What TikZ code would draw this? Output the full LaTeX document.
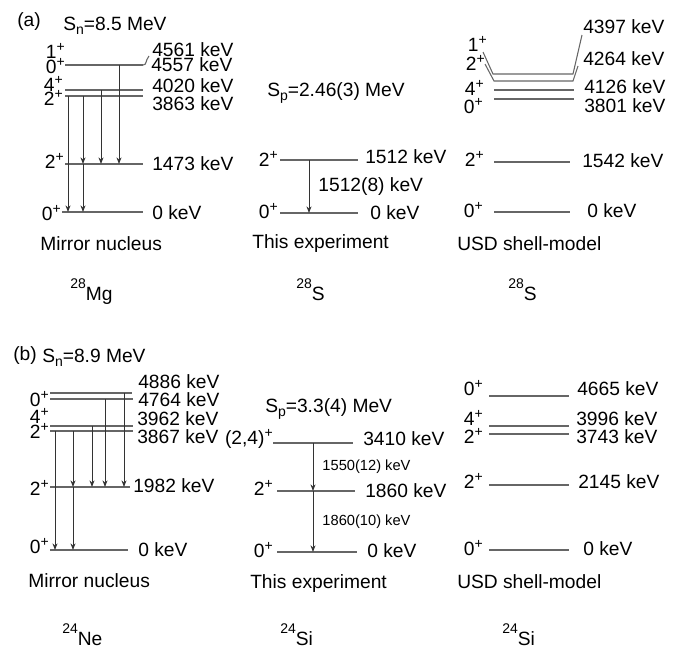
\documentclass[tikz,border=0pt]{standalone}
\usepackage{fontspec}
\setmainfont{Liberation Sans}
\usetikzlibrary{arrows.meta}
\colorlet{lvlcol}{black!60}
\colorlet{gamcol}{black!80}
\tikzstyle{lvl}=[lvlcol,line width=0.8pt]
\tikzstyle{gam}=[-{Stealth[length=5pt,width=3.8pt]},gamcol,line width=0.7pt]
\tikzstyle{jlab}=[anchor=base east]
\tikzstyle{elab}=[anchor=base west]
\tikzstyle{txt}=[anchor=base west]
\tikzstyle{glab}=[right=6.75pt,text=black,font=\fontsize{11}{13}\selectfont]
\newcommand{\jpi}[1]{#1\raisebox{4.8pt}{\fontsize{10.5}{12}\selectfont +}}
\newcommand{\nuc}[2]{\raisebox{9pt}{\fontsize{10.5}{12}\selectfont #1}#2}
\newcommand{\sepen}[2]{S\raisebox{-3pt}{\fontsize{10.5}{12}\selectfont #1}=#2}

\begin{document}
\begin{tikzpicture}[x=0.75pt,y=-0.75pt,
  every node/.style={inner sep=0pt,font=\fontsize{14.4}{17}\selectfont}]
  \useasboundingbox (0,0) rectangle (679,650);
  % (a) mirror nucleus 28Mg
  \node (labA) at (29,22) {(a)};
  \node[txt] (snA) at (63,30) {\sepen{n}{8.5 MeV}};
  \draw[lvl] (65,65) -- (143,65);
  \draw[lvl] (65,90) -- (143,90);
  \draw[lvl] (65,96) -- (143,96);
  \draw[lvl] (65,164) -- (143,164);
  \draw[lvl] (62,212) -- (143,212);
  \draw[lvl] (143,65) .. controls (147,65) and (145,61) .. (149,56);
  \node[jlab] (mgJ1) at (65,58) {\jpi{1}};
  \node[jlab] (mgJ2) at (65,73) {\jpi{0}};
  \node[jlab] (mgJ3) at (63,91) {\jpi{4}};
  \node[jlab] (mgJ4) at (63,105) {\jpi{2}};
  \node[jlab] (mgJ5) at (64,168) {\jpi{2}};
  \node[jlab] (mgJ6) at (61,220) {\jpi{0}};
  \node[elab] (mgE1) at (152,56) {4561 keV};
  \node[elab] (mgE2) at (151,71) {4557 keV};
  \node[elab] (mgE3) at (152,92) {4020 keV};
  \node[elab] (mgE4) at (152,110) {3863 keV};
  \node[elab] (mgE5) at (152,170) {1473 keV};
  \node[elab] (mgE6) at (152,219) {0 keV};
  \draw[gam] (68,96) -- (68,212);
  \draw[gam] (83,96) -- (83,164);
  \draw[gam] (83,164) -- (83,212);
  \draw[gam] (101,90) -- (101,164);
  \draw[gam] (119,65) -- (119,164);
  \node[txt] (mgT) at (40,250) {Mirror nucleus};
  \node[txt] (mgN) at (70,300) {\nuc{28}{Mg}};

  % (a) this experiment 28S
  \node[txt] (spA) at (267,96) {\sepen{p}{2.46(3) MeV}};
  \draw[lvl] (280,160) -- (358,160);
  \draw[lvl] (280,213) -- (358,213);
  \node[jlab] (sJ1) at (278,166) {\jpi{2}};
  \node[jlab] (sJ2) at (278,218) {\jpi{0}};
  \node[elab] (sE1) at (365,163) {1512 keV};
  \node[elab] (sE2) at (370,219) {0 keV};
  \draw[gam] (309,160) -- node[glab,font=\fontsize{14.4}{17}\selectfont] (sG1) {1512(8) keV} (309,213);
  \node[txt] (sT) at (252,248) {This experiment};
  \node[txt] (sN) at (296,300) {\nuc{28}{S}};

  % (a) USD shell model 28S
  \draw[lvl] (483,52) -- (493,74) -- (573,74) -- (582,35);
  \draw[lvl] (485,64) -- (494,81) -- (573,81) -- (578,66);
  \draw[lvl] (494,90) -- (574,90);
  \draw[lvl] (494,99) -- (574,99);
  \draw[lvl] (494,162) -- (570,162);
  \draw[lvl] (494,212) -- (570,212);
  \node[jlab] (uJ1) at (487,51) {\jpi{1}};
  \node[jlab] (uJ2) at (485,70) {\jpi{2}};
  \node[jlab] (uJ3) at (484,95) {\jpi{4}};
  \node[jlab] (uJ4) at (483,113) {\jpi{0}};
  \node[jlab] (uJ5) at (484,166) {\jpi{2}};
  \node[jlab] (uJ6) at (483,217) {\jpi{0}};
  \node[elab] (uE1) at (583,33) {4397 keV};
  \node[elab] (uE2) at (583,65) {4264 keV};
  \node[elab] (uE3) at (584,93) {4126 keV};
  \node[elab] (uE4) at (584,112) {3801 keV};
  \node[elab] (uE5) at (582,167) {1542 keV};
  \node[elab] (uE6) at (587,217) {0 keV};
  \node[txt] (uT) at (457,250) {USD shell-model};
  \node[txt] (uN) at (508,300) {\nuc{28}{S}};

  % (b) mirror nucleus 24Ne
  \node (labB) at (25,356) {(b)};
  \node[txt] (snB) at (42,362) {\sepen{n}{8.9 MeV}};
  \draw[lvl] (50,393) -- (132,393);
  \draw[lvl] (50,399) -- (133,399);
  \draw[lvl] (50,426) -- (133,426);
  \draw[lvl] (50,431) -- (133,431);
  \draw[lvl] (50,487) -- (130,487);
  \draw[lvl] (50,550) -- (128,550);
  \node[jlab] (neJ1) at (49,406) {\jpi{0}};
  \node[jlab] (neJ2) at (49,423) {\jpi{4}};
  \node[jlab] (neJ3) at (49,438) {\jpi{2}};
  \node[jlab] (neJ4) at (49,495) {\jpi{2}};
  \node[jlab] (neJ5) at (49,553) {\jpi{0}};
  \node[elab] (neE1) at (138,388) {4886 keV};
  \node[elab] (neE2) at (138,406) {4764 keV};
  \node[elab] (neE3) at (137,425) {3962 keV};
  \node[elab] (neE4) at (137,443) {3867 keV};
  \node[elab] (neE5) at (133,492) {1982 keV};
  \node[elab] (neE6) at (138,556) {0 keV};
  \draw[gam] (55,431) -- (55,550);
  \draw[gam] (73,431) -- (73,487);
  \draw[gam] (73,487) -- (73,550);
  \draw[gam] (92,426) -- (92,487);
  \draw[gam] (105,399) -- (105,487);
  \draw[gam] (124,393) -- (124,487);
  \node[txt] (neT) at (28,587) {Mirror nucleus};
  \node[txt] (neN) at (62,645) {\nuc{24}{Ne}};

  % (b) this experiment 24Si
  \node[txt] (spB) at (265,412) {\sepen{p}{3.3(4) MeV}};
  \draw[lvl] (273,443) -- (353,443);
  \draw[lvl] (277,491) -- (355,491);
  \draw[lvl] (277,552) -- (357,552);
  \node[jlab] (siJ1) at (273,444) {\jpi{(2,4)}};
  \node[jlab] (siJ2) at (273,495) {\jpi{2}};
  \node[jlab] (siJ3) at (273,557) {\jpi{0}};
  \node[elab] (siE1) at (363,445) {3410 keV};
  \node[elab] (siE2) at (365,497) {1860 keV};
  \node[elab] (siE3) at (367,557) {0 keV};
  \draw[gam] (313,443) -- node[glab] (siG1) {1550(12) keV} (313,491);
  \draw[gam] (313,491) -- node[glab] (siG2) {1860(10) keV} (313,552);
  \node[txt] (siT) at (250,588) {This experiment};
  \node[txt] (siN) at (280,645) {\nuc{24}{Si}};

  % (b) USD shell model 24Si
  \draw[lvl] (489,396) -- (569,396);
  \draw[lvl] (489,426) -- (569,426);
  \draw[lvl] (489,434) -- (569,434);
  \draw[lvl] (489,485) -- (569,485);
  \draw[lvl] (489,550) -- (569,550);
  \node[jlab] (vJ1) at (483,395) {\jpi{0}};
  \node[jlab] (vJ2) at (483,425) {\jpi{4}};
  \node[jlab] (vJ3) at (483,443) {\jpi{2}};
  \node[jlab] (vJ4) at (483,488) {\jpi{2}};
  \node[jlab] (vJ5) at (483,555) {\jpi{0}};
  \node[elab] (vE1) at (577,395) {4665 keV};
  \node[elab] (vE2) at (576,425) {3996 keV};
  \node[elab] (vE3) at (576,443) {3743 keV};
  \node[elab] (vE4) at (578,488) {2145 keV};
  \node[elab] (vE5) at (583,555) {0 keV};
  \node[txt] (vT) at (457,588) {USD shell-model};
  \node[txt] (vN) at (502,645) {\nuc{24}{Si}};
\end{tikzpicture}
\end{document}
